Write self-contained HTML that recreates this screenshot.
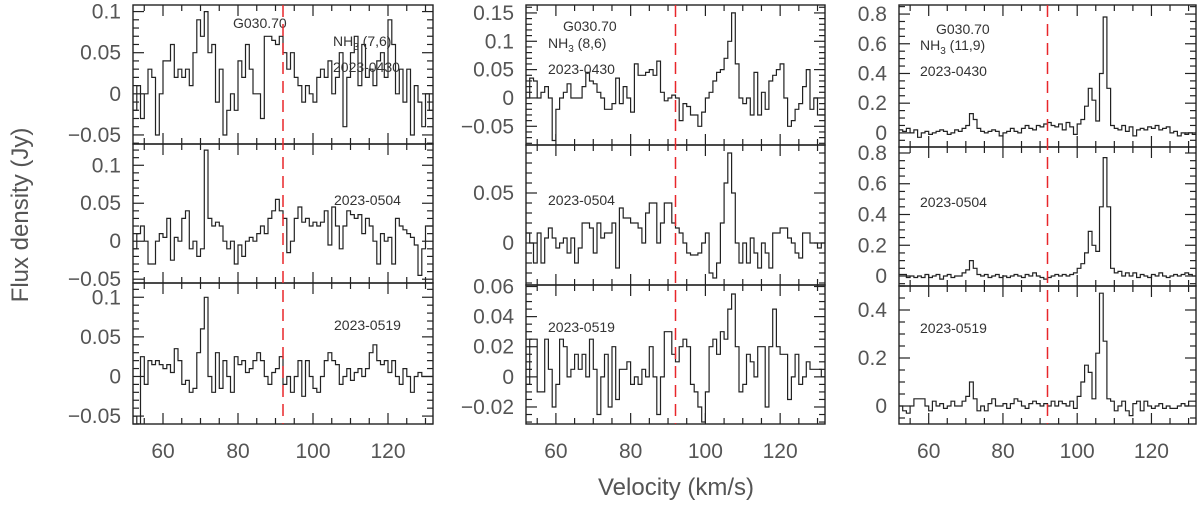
<!DOCTYPE html>
<html><head><meta charset="utf-8">
<style>
html,body{margin:0;padding:0;background:#fff;}
svg{display:block;font-family:"Liberation Sans",sans-serif;}
.tl{font-size:21px;fill:#555;}
.ann{font-size:14px;fill:#333;}
.ttl{font-size:24px;fill:#555;}
</style></head><body>
<svg id="chart" width="1200" height="506" viewBox="0 0 1200 506">
<text class="ttl" x="0" y="0" transform="translate(28,215) rotate(-90)" text-anchor="middle">Flux density (Jy)</text>
<text class="ttl" x="676" y="495" text-anchor="middle">Velocity (km/s)</text>
</svg>
<script>
const velocityStart = 52.5;
const velocityStep = 1;
const systemicVelocity = 92;
const xTickLabels = [60, 80, 100, 120];
const s76_0430 = [-0.02,0.01,-0.03,0.0,0.03,0.02,-0.05,0.0,0.04,0.04,0.06,0.02,0.03,0.02,0.03,0.01,0.05,0.09,0.07,0.10,0.05,0.06,-0.01,0.03,-0.05,-0.02,0.0,-0.02,0.04,0.02,0.06,0.03,0.0,0.0,-0.03,0.07,0.07,0.065,0.06,0.07,0.05,0.03,0.05,0.02,0.01,-0.01,0.01,0.0,-0.01,0.02,0.03,0.02,0.04,0.0,0.02,0.05,-0.04,0.02,0.05,0.07,0.01,0.06,0.02,0.03,0.01,0.04,0.05,0.02,0.09,0.06,0.0,0.03,-0.01,0.03,-0.05,0.01,-0.01,-0.04,0.0,-0.02];
const s76_0504 = [-0.01,0.01,0.02,0.0,-0.03,-0.03,0.0,0.01,0.005,0.03,-0.025,0.005,0.0,0.03,0.04,-0.01,0.0,-0.02,-0.01,0.12,0.03,0.02,0.025,0.02,0.0,-0.01,0.0,-0.03,-0.005,-0.02,0.0,0.005,0.0,0.01,0.02,0.01,0.03,0.04,0.055,0.04,0.03,-0.015,0.0,0.03,0.045,0.025,0.03,0.02,0.025,0.02,0.025,0.04,-0.005,0.045,0.02,-0.01,0.02,0.04,0.035,0.03,0.035,0.01,0.03,0.02,0.0,-0.03,0.01,0.0,0.005,-0.03,0.03,0.02,0.015,0.01,0.005,-0.005,-0.045,-0.01,0.02,0.02];
const s76_0519 = [-0.05,-0.06,0.025,-0.01,0.02,0.015,0.02,0.015,0.01,0.015,0.005,0.035,0.02,-0.01,-0.005,-0.02,-0.015,0.03,0.06,0.1,0.0,-0.02,0.03,-0.015,0.02,0.0,-0.02,0.025,0.015,0.02,0.005,0.01,0.02,0.03,0.02,0.0,-0.01,0.005,0.01,0.025,-0.01,0.0,-0.02,0.0,0.02,-0.025,0.02,0.0,-0.015,-0.02,0.0,0.02,0.03,0.02,0.015,-0.01,0.0,0.01,-0.005,0.005,0.01,0.0,0.01,0.03,0.04,0.02,0.015,0.02,0.005,0.02,0.0,-0.01,0.01,0.0,-0.02,0.0,0.005,0.0,0.0,0.0];
const s86_0430 = [0.0,0.035,0.03,0.0,0.01,0.02,0.0,-0.075,-0.02,0.0,0.01,0.025,0.0,0.0,0.0,0.02,0.045,0.03,0.025,0.01,0.0,-0.02,-0.02,-0.01,0.035,-0.01,0.02,0.0,-0.025,0.06,0.04,0.04,0.045,0.05,0.04,0.065,0.01,-0.005,0.0,0.005,0.0,-0.04,-0.01,-0.015,-0.03,-0.03,-0.05,-0.025,0.0,0.01,0.03,0.045,0.05,0.07,0.1,0.15,0.06,0.0,-0.01,0.0,-0.03,0.045,-0.03,0.01,-0.02,0.03,0.04,0.05,0.06,0.0,-0.05,-0.04,-0.02,-0.01,0.02,0.05,-0.02,0.0,-0.03,-0.03];
const s86_0504 = [0.01,0.0,-0.02,0.01,-0.02,0.005,0.015,0.005,-0.005,0.0,0.005,-0.01,0.005,-0.02,-0.005,0.02,0.02,0.015,-0.01,0.02,0.005,0.01,0.01,0.02,-0.025,0.035,0.025,0.025,0.02,0.02,0.015,0.0,0.03,0.04,0.04,0.0,0.02,0.04,0.04,0.02,0.015,0.01,0.0,-0.01,-0.012,-0.012,-0.01,0.0,0.01,-0.03,-0.035,-0.02,0.02,0.06,0.09,0.05,0.0,-0.02,0.0,-0.02,0.005,-0.01,-0.025,0.0,-0.01,-0.025,0.01,0.01,0.015,0.015,0.005,0.0,-0.01,-0.015,0.01,0.01,0.0,0.0,-0.005,0.0];
const s86_0519 = [-0.005,0.025,0.025,-0.01,-0.01,0.025,0.005,-0.02,-0.005,0.025,0.02,0.0,0.005,0.015,0.005,0.015,0.0,0.025,0.005,-0.025,0.0,0.015,-0.02,0.02,-0.015,0.005,0.005,0.01,-0.005,0.0,-0.005,0.005,0.0,0.02,0.0,-0.025,0.0,0.03,0.03,0.015,0.01,0.02,0.025,0.02,-0.005,-0.01,-0.02,-0.03,-0.01,0.02,0.025,0.015,0.03,0.025,0.045,0.055,0.02,-0.01,-0.005,0.015,0.01,0.0,0.02,0.02,-0.02,0.02,0.045,0.02,0.015,0.015,-0.015,0.0,0.015,-0.005,0.0,0.01,0.005,0.005,0.005,0.0];
const s119_0430 = [0.02,0.01,0.03,0.0,0.02,-0.03,0.0,0.01,-0.01,0.0,0.01,0.02,0.01,-0.01,0.0,0.02,0.01,0.03,0.05,0.13,0.09,0.03,0.01,0.0,0.01,0.02,0.01,-0.02,0.0,0.01,0.03,0.01,0.0,0.03,0.05,0.03,0.02,0.05,0.04,0.06,0.07,0.05,0.04,0.06,0.02,0.07,0.04,-0.01,0.06,0.09,0.18,0.3,0.22,0.08,0.4,0.78,0.3,0.05,0.03,0.02,0.05,0.01,0.04,-0.02,0.02,0.03,0.02,0.04,0.03,0.05,0.02,0.03,0.04,0.0,0.01,-0.02,0.0,-0.01,0.0,-0.01];
const s119_0504 = [0.01,0.01,-0.01,0.0,-0.01,0.0,-0.01,0.01,-0.01,0.0,0.01,-0.02,0.0,0.01,-0.01,0.0,0.0,0.02,0.04,0.1,0.05,0.01,0.0,0.01,-0.01,0.0,0.01,-0.01,0.0,-0.01,0.0,0.01,0.0,-0.01,0.01,0.0,0.02,0.0,-0.01,-0.02,-0.01,0.0,0.01,0.0,0.01,0.0,0.01,0.02,0.05,0.08,0.15,0.29,0.2,0.16,0.45,0.77,0.45,0.05,0.02,0.03,0.0,0.02,0.0,0.02,-0.01,0.01,0.0,-0.01,0.01,0.0,0.02,0.0,-0.01,0.0,0.01,0.0,0.01,0.02,0.01,0.0];
const s119_0519 = [0.0,-0.02,-0.03,0.0,0.03,0.03,0.03,0.0,-0.02,0.02,0.0,0.01,-0.01,0.0,0.02,0.0,0.0,0.02,0.04,0.1,0.03,-0.02,0.0,-0.02,0.01,0.03,0.0,0.0,0.01,-0.01,0.01,0.03,0.02,0.0,-0.01,0.01,0.02,0.01,0.0,0.01,0.0,0.02,0.0,0.02,0.01,0.0,0.02,-0.01,0.04,0.1,0.17,0.14,0.03,0.22,0.47,0.27,0.03,0.02,-0.02,0.0,0.02,-0.02,-0.04,0.01,0.02,-0.02,0.02,0.0,-0.01,0.0,0.01,-0.01,0.0,-0.01,-0.01,0.0,0.01,0.0,0.02,0.02];
const yTicks1 = [0.1, 0.05, 0, -0.05];
const yTicks2 = [0.15, 0.1, 0.05, 0, -0.05];
const yTicks3 = [0.05, 0];
const yTicks4 = [0.06, 0.04, 0.02, 0, -0.02];
const yTicks5 = [0.8, 0.6, 0.4, 0.2, 0];
const yTicks6 = [0.4, 0.2, 0];
const yTickLabels1 = ["0.1","0.05","0","\u22120.05"];
const yTickLabels2 = ["0.15","0.1","0.05","0","\u22120.05"];
const yTickLabels3 = ["0.05","0"];
const yTickLabels4 = ["0.06","0.04","0.02","0","\u22120.02"];
const yTickLabels5 = ["0.8","0.6","0.4","0.2","0"];
const yTickLabels6 = ["0.4","0.2","0"];

const NS = "http://www.w3.org/2000/svg";
const svg = document.getElementById('chart');
function mk(tag, attrs, parent){ const e=document.createElementNS(NS,tag); for(const k in attrs) e.setAttribute(k,attrs[k]); (parent||svg).appendChild(e); return e; }

const cols = [
 {x0:133,x1:433,trans:"(7,6)",g:[233,28],nh:[333,46],d:[333,72],dx:334},
 {x0:526,x1:825,trans:"(8,6)",g:[563,31],nh:[548,48],d:[548,74],dx:548},
 {x0:899,x1:1196,trans:"(11,9)",g:[936,34],nh:[920,50],d:[920,76],dx:920}
];
const panels = [
 {c:0,y0:5,y1:144,lo:-0.061,hi:0.108,data:s76_0430,ticks:yTicks1,labels:yTickLabels1,minor:0.01,date:"2023-0430",name:"nh3-76-0430"},
 {c:0,y0:144,y1:283,lo:-0.055,hi:0.128,data:s76_0504,ticks:yTicks1,labels:yTickLabels1,minor:0.01,date:"2023-0504",dy:205,name:"nh3-76-0504"},
 {c:0,y0:283,y1:424,lo:-0.06,hi:0.118,data:s76_0519,ticks:yTicks1,labels:yTickLabels1,minor:0.01,date:"2023-0519",dy:330,name:"nh3-76-0519"},
 {c:1,y0:5,y1:145,lo:-0.083,hi:0.164,data:s86_0430,ticks:yTicks2,labels:yTickLabels2,minor:0.01,date:"2023-0430",name:"nh3-86-0430"},
 {c:1,y0:145,y1:285,lo:-0.042,hi:0.098,data:s86_0504,ticks:yTicks3,labels:yTickLabels3,minor:0.01,date:"2023-0504",dy:205,name:"nh3-86-0504"},
 {c:1,y0:285,y1:424,lo:-0.0313,hi:0.061,data:s86_0519,ticks:yTicks4,labels:yTickLabels4,minor:0.005,date:"2023-0519",dy:332,name:"nh3-86-0519"},
 {c:2,y0:5,y1:147,lo:-0.095,hi:0.861,data:s119_0430,ticks:yTicks5,labels:yTickLabels5,minor:0.05,date:"2023-0430",name:"nh3-119-0430"},
 {c:2,y0:147,y1:286,lo:-0.065,hi:0.839,data:s119_0504,ticks:yTicks5,labels:yTickLabels5,minor:0.05,date:"2023-0504",dy:207,name:"nh3-119-0504"},
 {c:2,y0:286,y1:424,lo:-0.075,hi:0.5,data:s119_0519,ticks:yTicks6,labels:yTickLabels6,minor:0.05,date:"2023-0519",dy:333,name:"nh3-119-0519"}
];
const vMin=52, vMax=132;

panels.forEach((p,i)=>{
  const c = cols[p.c];
  const xs = v => c.x0 + (v - vMin)/(vMax - vMin)*(c.x1 - c.x0);
  const ys = f => p.y1 - (f - p.lo)/(p.hi - p.lo)*(p.y1 - p.y0);
  const g = mk('g',{});
  
  
  const cid = 'clip'+i;
  const cp = mk('clipPath',{id:cid},g); mk('rect',{x:c.x0,y:p.y0,width:c.x1-c.x0,height:p.y1-p.y0},cp);
  let d = '';
  p.data.forEach((f,k)=>{
    const v = velocityStart + k*velocityStep;
    const xa = xs(v - velocityStep/2), xb = xs(v + velocityStep/2), y = ys(f);
    d += (k===0 ? 'M' : 'L') + xa.toFixed(1) + ',' + y.toFixed(1) + 'L' + xb.toFixed(1) + ',' + y.toFixed(1);
  });
  const path = mk('path',{d:d,fill:'none',stroke:'#222','stroke-width':1.2,'clip-path':'url(#'+cid+')'},g);
  
  
  for(let v=55; v<vMax; v+=5){
    const major = v%20===0;
    const L = major?11:6, x = xs(v);
    mk('line',{x1:x,x2:x,y1:p.y1,y2:p.y1-L,stroke:'#222','stroke-width':1.2},g);
    mk('line',{x1:x,x2:x,y1:p.y0,y2:p.y0+L,stroke:'#222','stroke-width':1.2},g);
  }
  const n0 = Math.ceil(p.lo/p.minor), n1 = Math.floor(p.hi/p.minor);
  for(let n=n0;n<=n1;n++){
    const f=n*p.minor, y=ys(f);
    const isMajor = p.ticks.some(t=>Math.abs(t-f)<1e-9);
    const L = isMajor?11:6;
    mk('line',{x1:c.x0,x2:c.x0+L,y1:y,y2:y,stroke:'#222','stroke-width':1.2},g);
    mk('line',{x1:c.x1,x2:c.x1-L,y1:y,y2:y,stroke:'#222','stroke-width':1.2},g);
  }
  p.ticks.forEach((t,k)=>{
    const tx = mk('text',{x:c.x0-12,y:ys(t)+7,'text-anchor':'end',class:'tl'},g);
    tx.textContent = p.labels[k];
    
    
  });
  const fr = mk('rect',{x:c.x0,y:p.y0,width:c.x1-c.x0,height:p.y1-p.y0,fill:'none',stroke:'#222','stroke-width':1.4},g);
  
  
  if(p.y0<10){
    const t1 = mk('text',{x:c.g[0],y:c.g[1],class:'ann'},g); t1.textContent='G030.70';
    
    
    const t2 = mk('text',{x:c.nh[0],y:c.nh[1],class:'ann'},g);
    
    
    t2.appendChild(document.createTextNode('NH'));
    const sub = mk('tspan',{'font-size':'10px',dy:4},t2); sub.textContent='3';
    const rest = mk('tspan',{dy:-4},t2); rest.textContent=' '+c.trans;
    const t3 = mk('text',{x:c.d[0],y:c.d[1],class:'ann'},g); t3.textContent=p.date;
    
    
  } else {
    const t3 = mk('text',{x:c.dx,y:p.dy,class:'ann'},g); t3.textContent=p.date;
    
    
  }
});
cols.forEach((c,ci)=>{
  const xs = v => c.x0 + (v - vMin)/(vMax - vMin)*(c.x1 - c.x0);
  const ln = mk('line',{x1:xs(systemicVelocity),x2:xs(systemicVelocity),y1:5,y2:424,stroke:'#e8262a','stroke-width':1.5,'stroke-dasharray':'12,7'});
  
  
  xTickLabels.forEach(v=>{
    const t = mk('text',{x:xs(v),y:458,'text-anchor':'middle',class:'tl'});
    t.textContent = v;
    
    
  });
});
</script>
</body></html>
